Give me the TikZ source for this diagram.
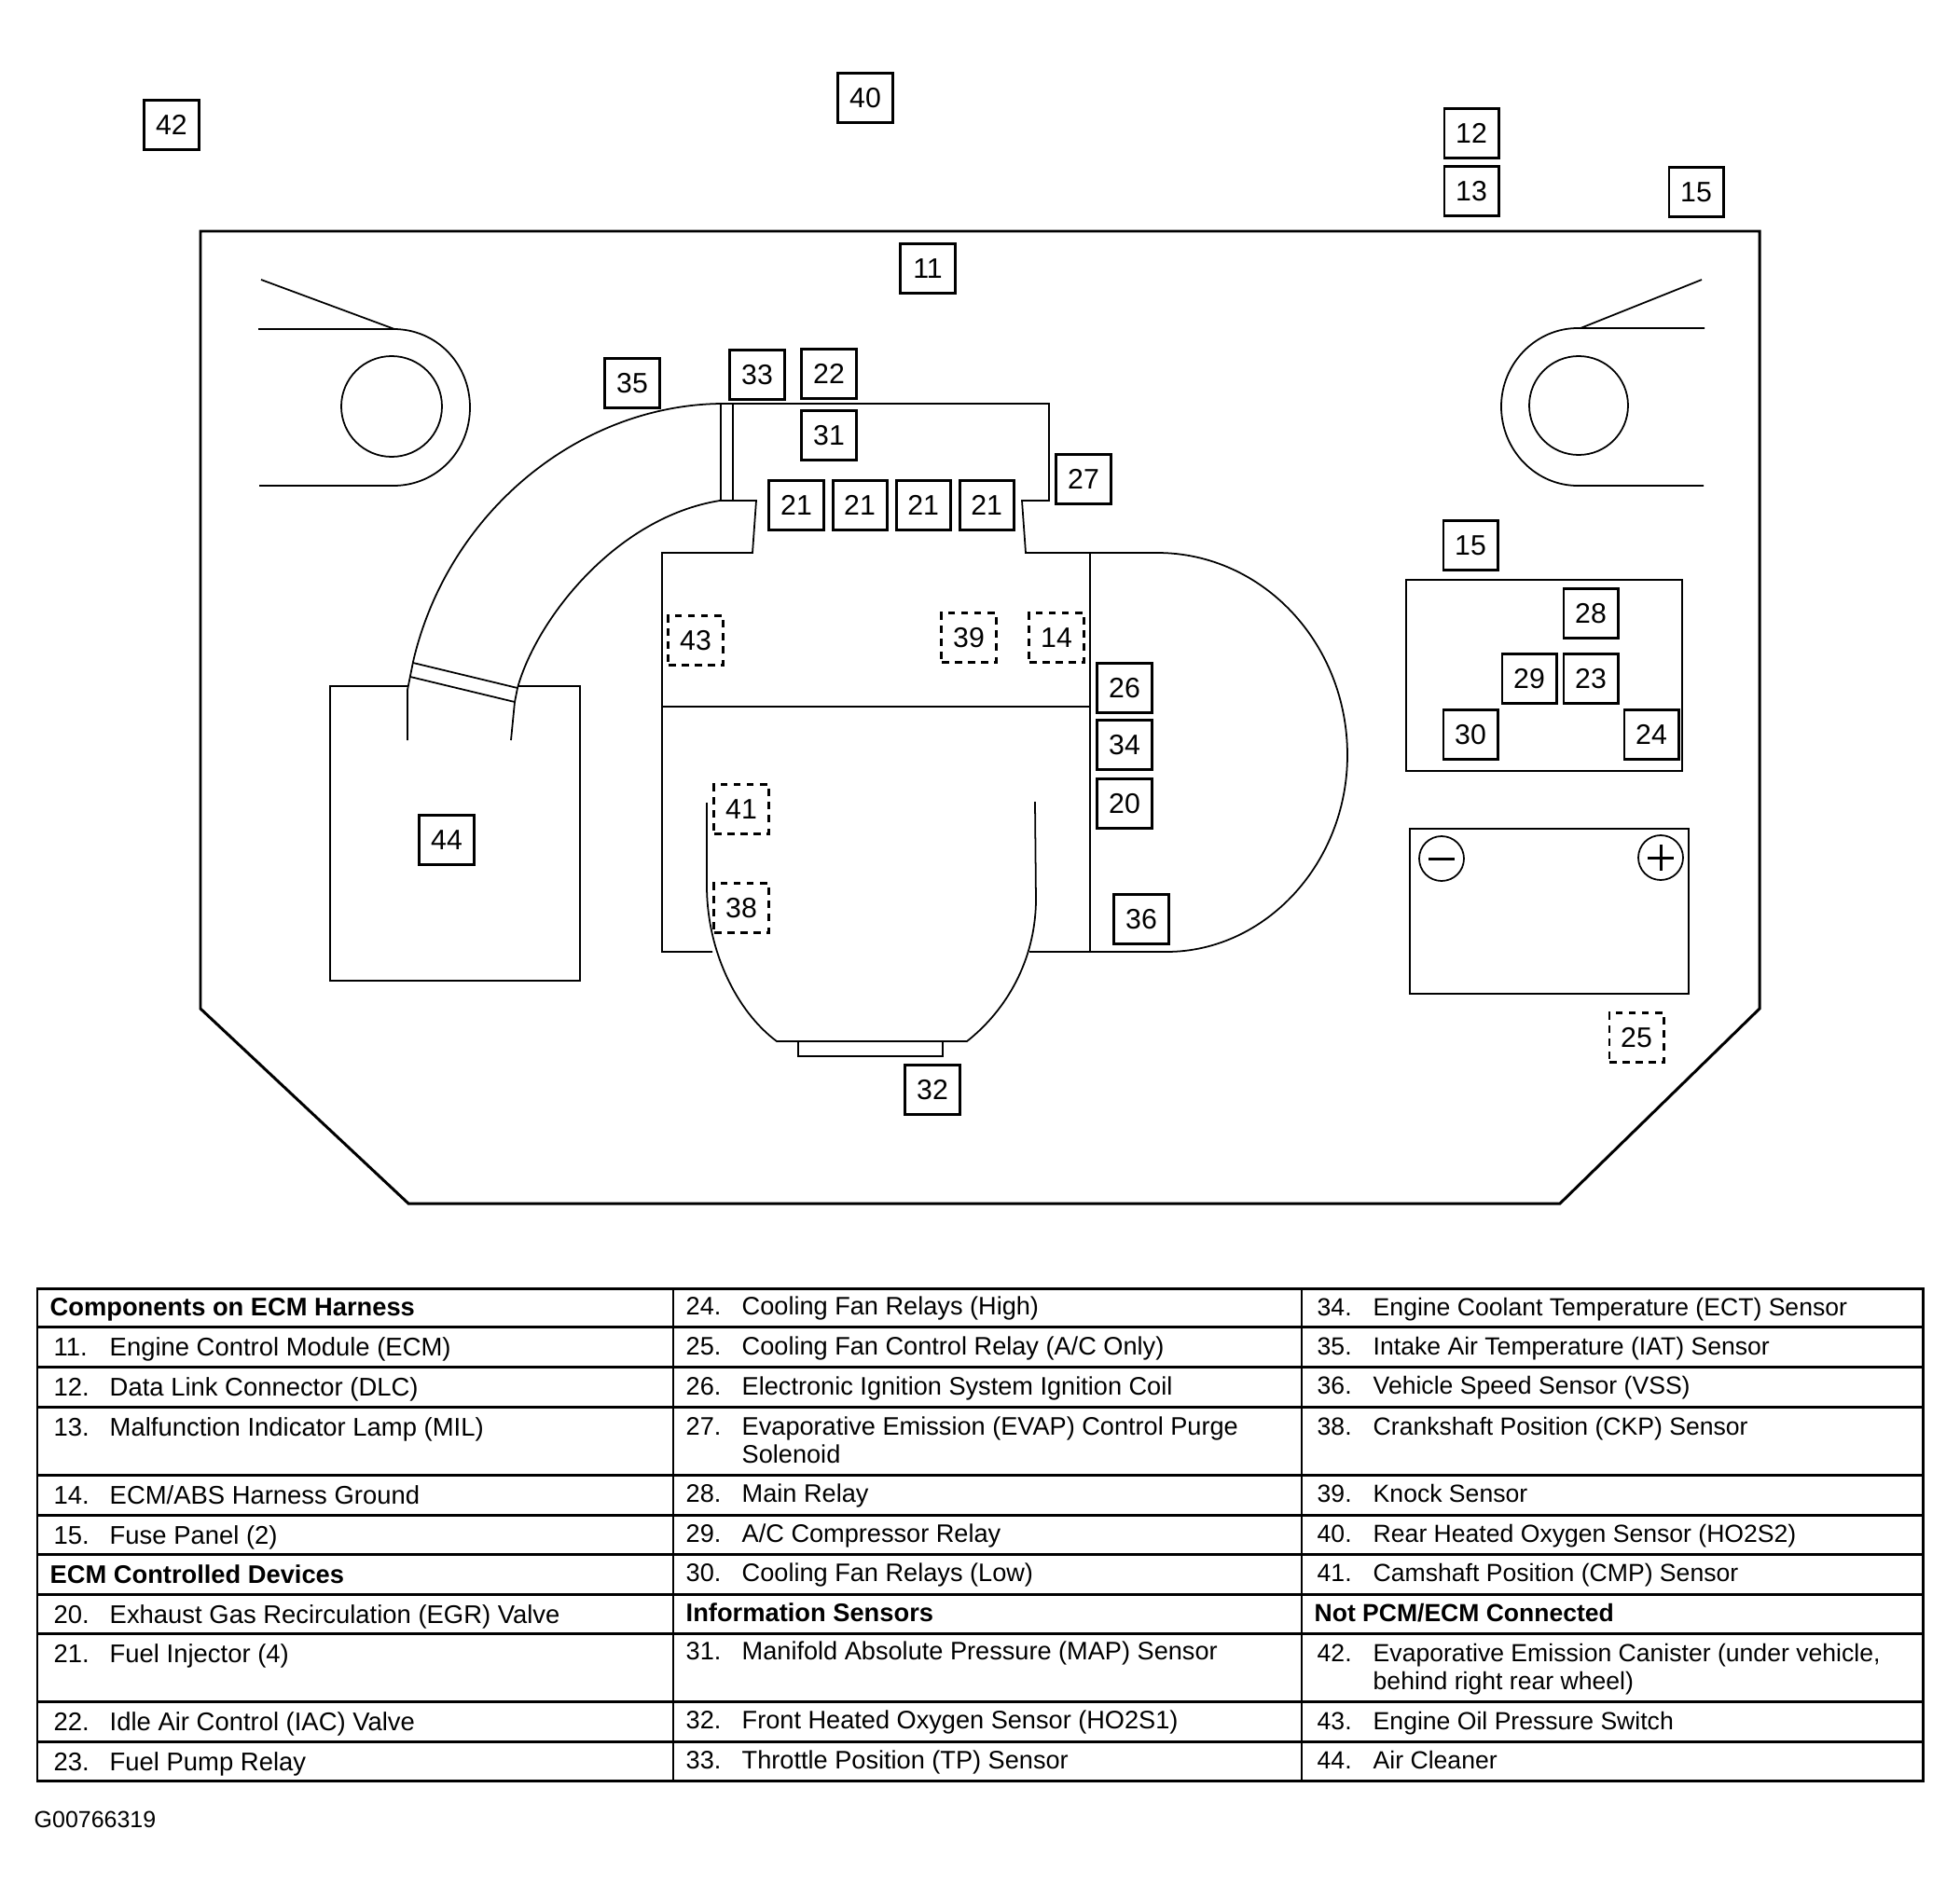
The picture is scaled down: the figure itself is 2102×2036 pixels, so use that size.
\documentclass[tikz,border=0pt]{standalone}
\usepackage{fontspec}
\setmainfont{Liberation Sans}
\usetikzlibrary{positioning}
\newcommand{\numbox}[1]{\makebox[0.6cm][l]{#1}}
\tikzset{
  marker/.style={rectangle, draw, line width=0.85pt, minimum width=0.58cm, minimum height=0.53cm, inner sep=0pt, outer sep=0pt, font=\fontsize{8.6}{10}\selectfont},
  hiddenpart/.style={marker, dashed, dash pattern=on 2.2pt off 1.8pt},
  thinline/.style={line width=0.5pt},
  heavyline/.style={line width=0.85pt},
  rowtext/.style={anchor=base west, inner sep=0pt, font=\fontsize{7.8}{9}\selectfont},
  rowmid/.style={rowtext, font=\fontsize{7.72}{9}\selectfont},
  rowlast/.style={rowtext, font=\fontsize{7.56}{9}\selectfont},
  headtext/.style={rowtext, font=\fontsize{7.76}{9}\selectfont\bfseries},
  headlast/.style={rowtext, font=\fontsize{7.54}{9}\selectfont\bfseries}
}

\begin{document}
\begin{tikzpicture}[x=0.01cm, y=-0.01cm]
  \useasboundingbox (0,0) rectangle (2102,2036);
  % vehicle outline
  \draw[heavyline] (215,248) -- (1887,248) -- (1887,1082) -- (1673,1291) -- (438,1291) -- (215,1082) -- cycle;
  % left and right wheel housings
  \draw[thinline] (280,300) -- (423,353);
  \draw[thinline] (277,353) -- (422,353) .. controls (468,353) and (504,390) .. (504,437) .. controls (504,484) and (468,521) .. (422,521) -- (278,521);
  \draw[thinline] (420,436) circle (54);
  \draw[thinline] (1825,300) -- (1695,352);
  \draw[thinline] (1828,352) -- (1692,352) .. controls (1647,352) and (1610,390) .. (1610,436) .. controls (1610,483) and (1647,521) .. (1692,521) -- (1827,521);
  \draw[thinline] (1693,435) circle (53);
  % air cleaner and intake tube
  \draw[thinline] (437,736) -- (354,736) -- (354,1052) -- (622,1052) -- (622,736) -- (555,736);
  \draw[thinline] (437,794) -- (437,740) -- (443,710) .. controls (480,550) and (620,435) .. (773,433) -- (1125,433) -- (1125,537) -- (1096,537) -- (1100,593) -- (1169,593);
  \draw[thinline] (548,794) -- (552,753) -- (555,738) .. controls (575,665) and (660,555) .. (772,537) -- (811,537) -- (807,593) -- (710,593) -- (710,1021) -- (764,1021);
  \draw[thinline] (443,711) -- (555,738);
  \draw[thinline] (440,726) -- (552,753);
  \draw[thinline] (773,433) -- (773,537);
  \draw[thinline] (786,433) -- (786,537);
  % engine block
  \draw[thinline] (710,758) -- (1169,758);
  \draw[thinline] (1169,593) -- (1169,1021);
  \draw[thinline] (1169,593) -- (1241,593) .. controls (1354,593) and (1445,690) .. (1445,810) .. controls (1445,926) and (1357,1021) .. (1251,1021) -- (1104,1021);
  % oil pan
  \draw[thinline] (758,861) -- (758,950) .. controls (758,1020) and (790,1085) .. (833,1117) -- (1037,1117) .. controls (1080,1083) and (1110,1030) .. (1111,967) -- (1110,860);
  \draw[thinline] (856,1117) -- (856,1133) -- (1011,1133) -- (1011,1117);
  % fuse panel and battery
  \draw[thinline] (1508,622) rectangle (1804,827);
  \draw[thinline] (1512,889) rectangle (1811,1066);
  \draw[thinline] (1546,921) circle (24);
  \draw[thinline] (1781,920) circle (24);
  \draw[heavyline] (1532,921) -- (1560,921);
  \draw[heavyline] (1767,920) -- (1795,920);
  \draw[heavyline] (1781,906) -- (1781,934);
  % location markers
  \node (L42) [marker] at (184,134) {42};
  \node (L40) [marker] at (928,105) {40};
  \node (L12) [marker] at (1578,143) {12};
  \node (L13) [marker, below=0.09cm of L12] {13};
  \node (L15a) [marker] at (1819,206) {15};
  \node (L11) [marker] at (995,288) {11};
  \node (L35) [marker] at (678,411) {35};
  \node (L33) [marker] at (812,402) {33};
  \node (L22) [marker] at (889,401) {22};
  \node (L31) [marker] at (889,467) {31};
  \node (L21a) [marker] at (854,542) {21};
  \node (L21b) [marker, right=0.1cm of L21a] {21};
  \node (L21c) [marker, right=0.1cm of L21b] {21};
  \node (L21d) [marker, right=0.1cm of L21c] {21};
  \node (L27) [marker] at (1162,514) {27};
  \node (L26) [marker] at (1206,738) {26};
  \node (L34) [marker, below=0.08cm of L26] {34};
  \node (L20) [marker, below=0.1cm of L34] {20};
  \node (L36) [marker] at (1224,986) {36};
  \node (L44) [marker] at (479,901) {44};
  \node (L32) [marker] at (1000,1169) {32};
  \node (L15b) [marker] at (1577,585) {15};
  \node (L28) [marker] at (1706,658) {28};
  \node (L23) [marker] at (1706,728) {23};
  \node (L29) [marker] at (1640,728) {29};
  \node (L30) [marker] at (1577,788) {30};
  \node (L24) [marker] at (1771,788) {24};
  \node (L43) [hiddenpart] at (746,687) {43};
  \node (L39) [hiddenpart] at (1039,684) {39};
  \node (L14) [hiddenpart] at (1133,684) {14};
  \node (L41) [hiddenpart] at (795,868) {41};
  \node (L38) [hiddenpart] at (795,974) {38};
  \node (L25) [hiddenpart] at (1755,1113) {25};
  % legend table
  \draw[heavyline] (40,1382) rectangle (2062,1910);
  \draw[heavyline] (40,1423) -- (2062,1423);
  \draw[heavyline] (40,1466) -- (2062,1466);
  \draw[heavyline] (40,1509) -- (2062,1509);
  \draw[heavyline] (40,1582) -- (2062,1582);
  \draw[heavyline] (40,1625) -- (2062,1625);
  \draw[heavyline] (40,1667) -- (2062,1667);
  \draw[heavyline] (40,1710) -- (2062,1710);
  \draw[heavyline] (40,1752) -- (2062,1752);
  \draw[heavyline] (40,1825) -- (2062,1825);
  \draw[heavyline] (40,1868) -- (2062,1868);
  \draw[thinline] (722,1382) -- (722,1910);
  \draw[thinline] (1396,1382) -- (1396,1910);
  % first column
  \node (H1) [headtext] at (53,1411) {Components on ECM Harness};
  \node (T11) [rowtext] at (57,1454) {\numbox{11.}Engine Control Module (ECM)};
  \node (T12) [rowtext] at (57,1497) {\numbox{12.}Data Link Connector (DLC)};
  \node (T13) [rowtext] at (57,1540) {\numbox{13.}Malfunction Indicator Lamp (MIL)};
  \node (T14) [rowtext] at (57,1613) {\numbox{14.}ECM/ABS Harness Ground};
  \node (T15) [rowtext] at (57,1656) {\numbox{15.}Fuse Panel (2)};
  \node (H2) [headtext] at (53,1698) {ECM Controlled Devices};
  \node (T20) [rowtext] at (57,1741) {\numbox{20.}Exhaust Gas Recirculation (EGR) Valve};
  \node (T21) [rowtext] at (57,1783) {\numbox{21.}Fuel Injector (4)};
  \node (T22) [rowtext] at (57,1856) {\numbox{22.}Idle Air Control (IAC) Valve};
  \node (T23) [rowtext] at (57,1899) {\numbox{23.}Fuel Pump Relay};
  % second column
  \node (T24) [rowmid] at (735,1410) {\numbox{24.}Cooling Fan Relays (High)};
  \node (T25) [rowmid] at (735,1453) {\numbox{25.}Cooling Fan Control Relay (A/C Only)};
  \node (T26) [rowmid] at (735,1496) {\numbox{26.}Electronic Ignition System Ignition Coil};
  \node (T27) [rowmid] at (735,1539) {\numbox{27.}Evaporative Emission (EVAP) Control Purge};
  \node (T27b) [rowmid] at (795,1569) {Solenoid};
  \node (T28) [rowmid] at (735,1611) {\numbox{28.}Main Relay};
  \node (T29) [rowmid] at (735,1654) {\numbox{29.}A/C Compressor Relay};
  \node (T30) [rowmid] at (735,1696) {\numbox{30.}Cooling Fan Relays (Low)};
  \node (H3) [headtext] at (735,1739) {Information Sensors};
  \node (T31) [rowmid] at (735,1780) {\numbox{31.}Manifold Absolute Pressure (MAP) Sensor};
  \node (T32) [rowmid] at (735,1854) {\numbox{32.}Front Heated Oxygen Sensor (HO2S1)};
  \node (T33) [rowmid] at (735,1897) {\numbox{33.}Throttle Position (TP) Sensor};
  % third column
  \node (T34) [rowlast] at (1412,1411) {\numbox{34.}Engine Coolant Temperature (ECT) Sensor};
  \node (T35) [rowlast] at (1412,1453) {\numbox{35.}Intake Air Temperature (IAT) Sensor};
  \node (T36) [rowlast] at (1412,1495) {\numbox{36.}Vehicle Speed Sensor (VSS)};
  \node (T38) [rowlast] at (1412,1539) {\numbox{38.}Crankshaft Position (CKP) Sensor};
  \node (T39) [rowlast] at (1412,1611) {\numbox{39.}Knock Sensor};
  \node (T40) [rowlast] at (1412,1654) {\numbox{40.}Rear Heated Oxygen Sensor (HO2S2)};
  \node (T41) [rowlast] at (1412,1696) {\numbox{41.}Camshaft Position (CMP) Sensor};
  \node (H4) [headlast] at (1409,1739) {Not PCM/ECM Connected};
  \node (T42) [rowlast] at (1412,1782) {\numbox{42.}Evaporative Emission Canister (under vehicle,};
  \node (T42b) [rowlast] at (1472,1812) {behind right rear wheel)};
  \node (T43) [rowlast] at (1412,1855) {\numbox{43.}Engine Oil Pressure Switch};
  \node (T44) [rowlast] at (1412,1897) {\numbox{44.}Air Cleaner};
  \node (G1) [rowtext, font=\fontsize{7.1}{9}\selectfont] at (36,1960) {G00766319};
\end{tikzpicture}
\end{document}
